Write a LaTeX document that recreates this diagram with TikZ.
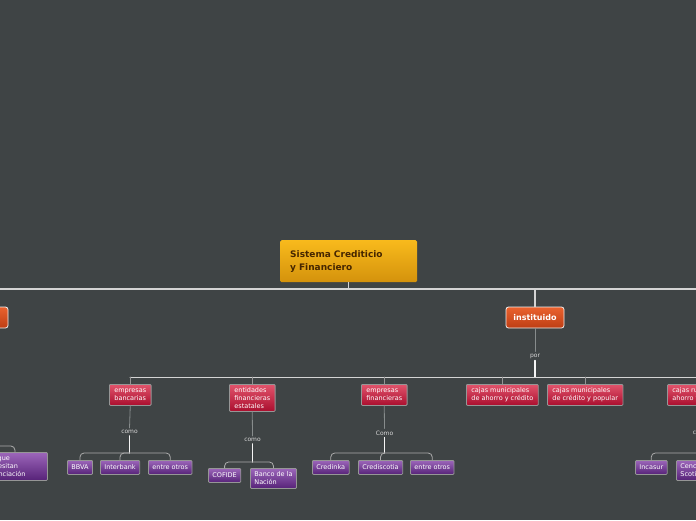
\documentclass[tikz,border=0pt]{standalone}
\usepackage{fontspec}
\setmainfont{DejaVu Sans}
\definecolor{fondo}{RGB}{63,68,69}
\definecolor{trazo}{RGB}{212,212,212}
\definecolor{tenue}{RGB}{135,140,140}
\definecolor{rotulo}{RGB}{215,215,215}
\definecolor{marco}{RGB}{150,150,150}
\definecolor{ambarA}{RGB}{248,186,28}
\definecolor{ambarB}{RGB}{212,146,12}
\definecolor{cafe}{RGB}{70,38,0}
\definecolor{naranjaA}{RGB}{234,98,46}
\definecolor{naranjaB}{RGB}{190,62,20}
\definecolor{rojoA}{RGB}{226,84,108}
\definecolor{rojoB}{RGB}{170,14,46}
\definecolor{moradoA}{RGB}{156,102,186}
\definecolor{moradoB}{RGB}{86,34,120}
\begin{document}
\begin{tikzpicture}[x=1pt,y=-1pt, line join=round, line cap=round,
	raiz/.style={anchor=north west, top color=ambarA, bottom color=ambarB, rounded corners=1.5pt, text=cafe, font=\fontsize{9}{13}\selectfont\bfseries, align=left, text width=117pt, inner xsep=10pt, minimum height=42pt},
	principal/.style={top color=naranjaA, bottom color=naranjaB, draw=white!88!gray, line width=0.8pt, rounded corners=2.5pt, text=white, font=\fontsize{8}{10}\selectfont\bfseries, minimum width=58pt, minimum height=21pt, inner sep=0pt},
	tipo/.style={anchor=north west, top color=rojoA, bottom color=rojoB, draw=marco, line width=0.8pt, rounded corners=1pt, text=white, font=\fontsize{6.5}{8}\selectfont, align=left, inner xsep=5pt, inner ysep=3pt, minimum height=21pt},
	caso/.style={anchor=north west, top color=moradoA, bottom color=moradoB, draw=marco, line width=0.8pt, rounded corners=1pt, text=white, font=\fontsize{6.5}{8}\selectfont, align=left, inner xsep=4pt, inner ysep=3.5pt, minimum height=14pt},
	nexo/.style={text=rotulo, font=\fontsize{6}{7}\selectfont, inner sep=2pt},
	tronco/.style={draw=trazo, line width=1.2pt},
	hilo/.style={draw=tenue, line width=0.8pt},
	baja/.style={draw=white!92!gray, line width=1.4pt},
	rama/.style={draw=marco!80!white, line width=0.8pt, rounded corners=4pt}]
	\useasboundingbox (0,0) rectangle (696,520);
	\fill[fondo] (0,0) rectangle (696,520);
	\clip (0,0) rectangle (696,520);
	% nivel superior
	\node[raiz] (sistema) at (280,240) {Sistema Crediticio\\y Financiero};
	\node[principal] (izq) at (-21,317.5) {};
	\node[principal] (instituido) at (535,317.5) {instituido};
	\coordinate (b1) at (-40,289);
	\coordinate (b1r) at (720,289);
	\draw[tronco] (b1) -- (b1r);
	\draw[tronco] (sistema.south) -- (sistema.south |- b1);
	\draw[tronco] (izq.north) -- (izq.north |- b1);
	\draw[tronco] (instituido.north) -- (instituido.north |- b1);
	\node[nexo] (por) at (535,356) {por};
	\draw[hilo] (instituido.south) -- (por.north);
	% tipos de entidades
	\coordinate (b2) at (130,377);
	\coordinate (b2r) at (720,377);
	\draw[baja] (por.south) -- (por.south |- b2);
	\draw[tronco, line width=1pt] (b2) -- (b2r);
	\node[tipo] (bancarias) at (109,384) {empresas\\bancarias};
	\node[tipo] (estatales) at (229,384) {entidades\\financieras\\estatales};
	\node[tipo] (financieras) at (361,384) {empresas\\financieras};
	\node[tipo] (ahorro) at (466,384) {cajas municipales\\de ahorro y crédito};
	\node[tipo] (popular) at (547,384) {cajas municipales\\de crédito y popular};
	\node[tipo] (rurales) at (667,384) {cajas rurales de\\ahorro y crédito};
	\foreach \t in {bancarias,estatales,financieras,ahorro,popular,rurales}
		\draw[hilo, draw=marco] (\t.north) -- (\t.north |- b2);
	% ejemplos
	\node[nexo] (como1) at (129.5,432) {como};
	\node[nexo] (como2) at (252.5,440) {como};
	\node[nexo] (como3) at (384.5,433) {Como};
	\node[nexo] (como4) at (701,433) {como};
	\draw[hilo] (bancarias.south) -- (como1.north);
	\draw[hilo] (estatales.south) -- (como2.north);
	\draw[hilo] (financieras.south) -- (como3.north);
	\draw[hilo] (rurales.south) -- (como4.north);
	\coordinate (f1) at (129.5,453);
	\coordinate (f2) at (252.5,462);
	\coordinate (f3) at (384.5,453);
	\coordinate (f4) at (701,453);
	\coordinate (f0) at (-14,446);
	\draw[baja] (como1.south) -- (f1);
	\draw[baja] (como2.south) -- (f2);
	\draw[baja] (como3.south) -- (f3);
	\draw[baja] (como4.south) -- (f4);
	\node[caso, text width=57pt] (necesitan) at (-18,452) {los que\\necesitan\\financiación};
	\node[caso] (bbva) at (67,460) {BBVA};
	\node[caso] (interbank) at (100,460) {Interbank};
	\node[caso] (otros1) at (148,460) {entre otros};
	\node[caso] (cofide) at (208,468) {COFIDE};
	\node[caso] (nacion) at (250,468) {Banco de la\\Nación};
	\node[caso] (credinka) at (312,460) {Credinka};
	\node[caso] (crediscotia) at (358,460) {Crediscotia};
	\node[caso] (otros2) at (410,460) {entre otros};
	\node[caso] (incasur) at (635,460) {Incasur};
	\node[caso] (cencosud) at (676,460) {Cencosud\\Scotiabank};
	\draw[rama] (f0) -| (necesitan.north);
	\foreach \h in {bbva,interbank,otros1}
		\draw[rama] (f1) -| (\h.north);
	\foreach \h in {cofide,nacion}
		\draw[rama] (f2) -| (\h.north);
	\foreach \h in {credinka,crediscotia,otros2}
		\draw[rama] (f3) -| (\h.north);
	\foreach \h in {incasur,cencosud}
		\draw[rama] (f4) -| (\h.north);
\end{tikzpicture}
\end{document}
